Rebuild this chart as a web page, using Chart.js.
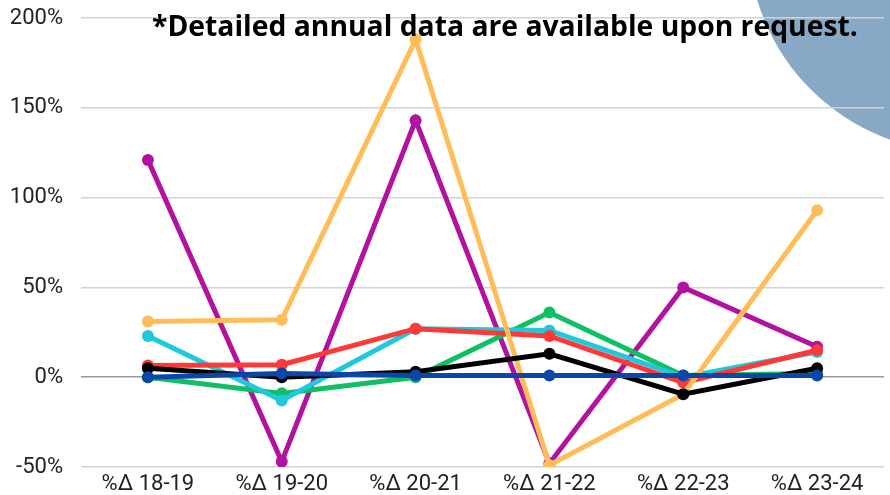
<!DOCTYPE html>
<html>
<head>
<meta charset="utf-8">
<script src="https://cdn.jsdelivr.net/npm/chart.js@4"></script>
<style>
  html, body { margin:0; padding:0; background:#fff; }
  #wrap { position:relative; width:890px; height:495px; }
  #lineChart { display:block; }
  #note {
    position:absolute; left:152px; top:6px;
    font-family:"Open Sans", sans-serif; font-weight:700; font-size:28.3px;
    color:#000; white-space:nowrap; pointer-events:none;
  }
</style>
</head>
<body>
<div id="wrap">
  <canvas id="lineChart" width="890" height="495"></canvas>
  <div id="note">*Detailed annual data are available upon request.</div>
</div>
<script>
// categories along the x axis
const periods = ["%\u0394 18-19","%\u0394 19-20","%\u0394 20-21","%\u0394 21-22","%\u0394 22-23","%\u0394 23-24"];

// series values, in percent
const blueVals   = [0, 2, 1, 1, 1, 1];
const blackVals  = [5, 0, 3, 13, -9.5, 5];
const redVals    = [6.5, 7, 27, 23, -3, 15];
const cyanVals   = [23, -13, 27, 26, 0, 14];
const greenVals  = [0, -9, 0, 36, 1, 2];
const orangeVals = [31, 32, 188, -49, -9.5, 93];
const purpleVals = [121, -47, 143, -48, 50, 17];

// y tick values
const yTicks = [-50, 0, 50, 100, 150, 200];

function series(data, color){
  return {
    data:data,
    borderColor:color,
    backgroundColor:color,
    borderWidth:5,
    pointRadius:6,
    pointHoverRadius:6,
    pointBorderWidth:0,
    tension:0
  };
}

// big blue circle in the top right corner, behind the grid
const cornerCircle = {
  id:"cornerCircle",
  beforeDraw(c){
    const ctx = c.ctx;
    ctx.save();
    ctx.fillStyle = "#88a9c6";
    ctx.beginPath();
    ctx.arc(962, -62, 214, 0, Math.PI*2);
    ctx.fill();
    ctx.restore();
  }
};

new Chart(document.getElementById("lineChart"),{
  type:"line",
  data:{
    labels:periods,
    datasets:[
      series(blueVals,"#0b47a6"),
      series(blackVals,"#000000"),
      series(orangeVals,"#ffbd59"),
      series(redVals,"#ff3838"),
      series(cyanVals,"#1fc8dc"),
      series(greenVals,"#10bf63"),
      series(purpleVals,"#b1129f")
    ]
  },
  options:{
    responsive:false,
    animation:false,
    layout:{ padding:{ top:18, right:3, left:0, bottom:0 } },
    plugins:{ legend:{display:false}, tooltip:{enabled:false} },
    scales:{
      x:{
        offset:true,
        grid:{ display:false, drawTicks:false },
        border:{ display:false },
        ticks:{ color:"#222", font:{family:"Roboto", size:22}, padding:4, maxRotation:0 },
        afterFit(s){ s.height = 28; s.paddingLeft = 0; s.paddingRight = 0; }
      },
      y:{
        min:-50, max:200,
        afterBuildTicks(s){ s.ticks = yTicks.map(v=>({value:v})); },
        grid:{
          drawTicks:false,
          color:(ctx)=> ctx.tick && ctx.tick.value===0 ? "#9a9a9a" : "#d2d2d2",
          lineWidth:1.5
        },
        border:{ display:false },
        ticks:{ color:"#222", font:{family:"Roboto", size:22}, padding:18,
          callback:(v)=> v + "%" },
        afterFit(s){ s.width = 81; s.paddingTop = 0; s.paddingBottom = 0; }
      }
    }
  },
  plugins:[cornerCircle]
});
</script>
</body>
</html>
